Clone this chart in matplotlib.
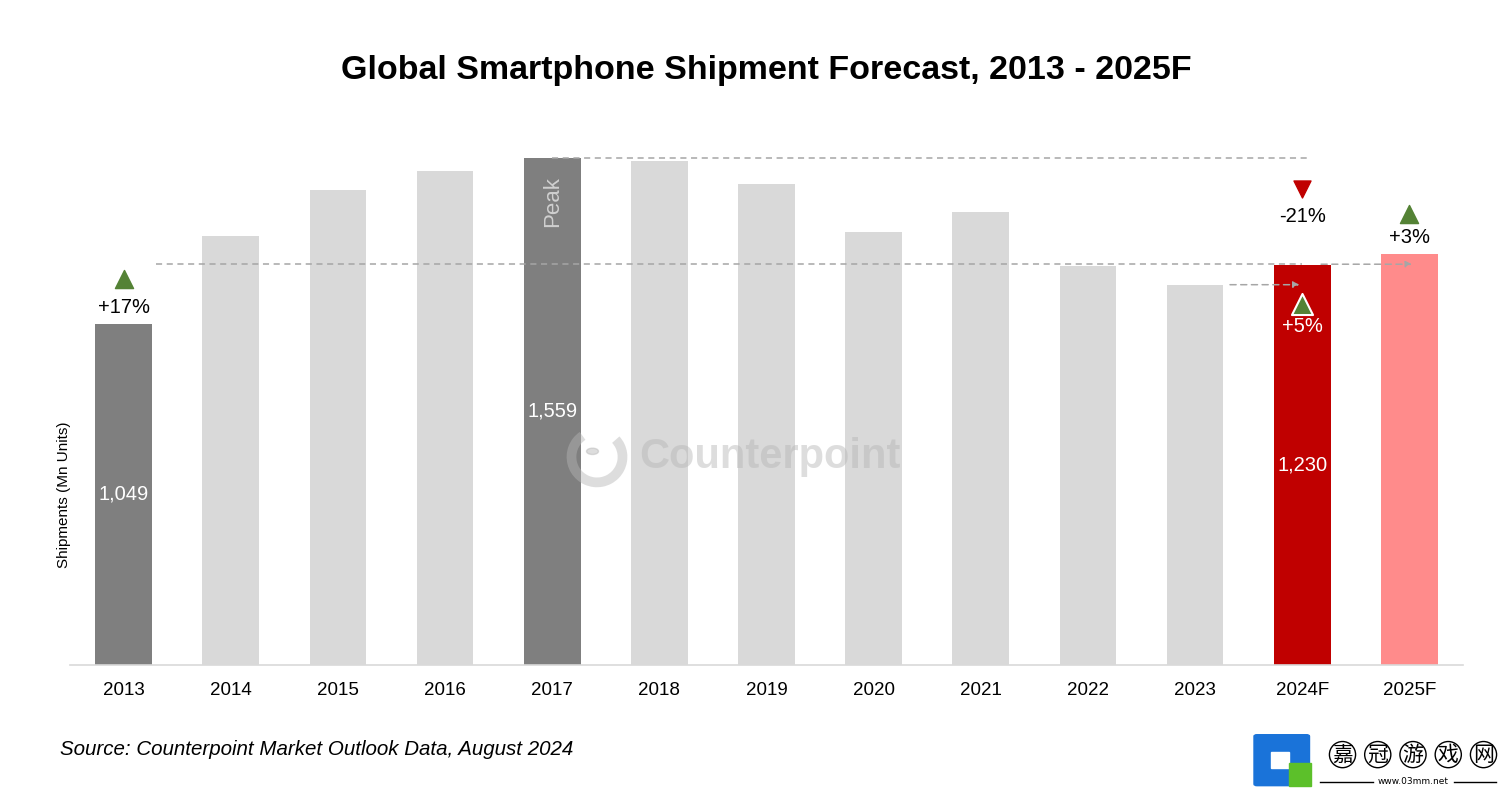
import numpy as np
import matplotlib.pyplot as plt
from matplotlib.patches import Rectangle, Circle, Arc, FancyBboxPatch

plt.rcParams['font.family'] = ['Liberation Sans', 'DejaVu Sans']

years = ["2013", "2014", "2015", "2016", "2017", "2018", "2019",
         "2020", "2021", "2022", "2023", "2024F", "2025F"]
shipments = [1049, 1320, 1461, 1517, 1559, 1548, 1480,
             1332, 1391, 1228, 1169, 1230, 1262]
colors = ["#7f7f7f", "#d9d9d9", "#d9d9d9", "#d9d9d9", "#7f7f7f", "#d9d9d9", "#d9d9d9",
          "#d9d9d9", "#d9d9d9", "#d9d9d9", "#d9d9d9", "#c00000", "#ff8b8b"]

fig = plt.figure(figsize=(15, 7.96), dpi=100)
ax = fig.add_axes([0.0467, 0.1646, 0.9286, 0.66])
x = np.arange(len(years))
ax.bar(x, shipments, width=0.53, color=colors, zorder=2)
ax.set_xlim(-0.5, 12.5)
ax.set_ylim(0, 1615)
ax.set_xticks(x)
ax.set_xticklabels(years, fontsize=13.5)
ax.tick_params(axis='x', length=0, pad=12)
ax.set_yticks([])
for s in ["top", "right", "left"]:
    ax.spines[s].set_visible(False)
ax.spines["bottom"].set_color("#d9d9d9")
ax.spines["bottom"].set_linewidth(1.2)
fig.text(0.0425, 0.378, "Shipments (Mn Units)", fontsize=11, rotation=90, ha="center", va="center")

# value labels inside bars
ax.text(0, 525, "1,049", color="white", ha="center", va="center", fontsize=14.5, zorder=4)
ax.text(4, 780, "1,559", color="white", ha="center", va="center", fontsize=14.5, zorder=4)
ax.text(11, 615, "1,230", color="white", ha="center", va="center", fontsize=14.5, zorder=4)
ax.text(4, 1425, "Peak", color="#cfcfcf", rotation=90, ha="center", va="center", fontsize=16, zorder=4)

# dashed reference lines
dash = dict(color="#a6a6a6", lw=1.1, ls=(0, (4, 3)), zorder=3)
ax.plot([4.0, 11.05], [1559, 1559], **dash)
ax.plot([0.3, 11.0], [1232, 1232], **dash)
ax.annotate("", xy=(12.05, 1232), xytext=(11.15, 1232),
            arrowprops=dict(arrowstyle="-|>", color="#a6a6a6", lw=1.1, ls=(0, (4, 3)), mutation_scale=9), zorder=3)
ax.annotate("", xy=(11.0, 1169), xytext=(10.3, 1169),
            arrowprops=dict(arrowstyle="-|>", color="#a6a6a6", lw=1.1, ls=(0, (4, 3)), mutation_scale=9), zorder=3)

# change markers
green = "#548235"
red = "#c00000"
ax.scatter([0], [1185], marker="^", s=170, color=green, zorder=5)
ax.text(0, 1100, "+17%", ha="center", va="center", fontsize=14.5)
ax.scatter([11], [1463], marker="v", s=150, color=red, zorder=5)
ax.text(11, 1379, "-21%", ha="center", va="center", fontsize=14.5)
ax.scatter([11], [1110], marker="^", s=230, color=green, edgecolor="white", linewidth=1.5, zorder=5)
ax.text(11, 1040, "+5%", color="white", ha="center", va="center", fontsize=14.5, zorder=5)
ax.scatter([12], [1385], marker="^", s=170, color=green, zorder=5)
ax.text(12, 1313, "+3%", ha="center", va="center", fontsize=14.5)

# watermark
fig.text(0.513, 0.426, "Counterpoint", fontsize=30, fontweight="bold", color="#b5b5b5",
         alpha=0.45, ha="center", va="center", zorder=10)
fig.patches.append(Arc((0.398, 0.426), 0.034, 0.064, theta1=110, theta2=420, lw=7,
                       color="#b5b5b5", alpha=0.45, transform=fig.transFigure, figure=fig))
fig.patches.append(Circle((0.395, 0.433), 0.004, color="#b5b5b5", alpha=0.45,
                          transform=fig.transFigure, figure=fig))

fig.suptitle("Global Smartphone Shipment Forecast, 2013 - 2025F", fontsize=24.5,
             fontweight="bold", y=0.912, va="center", x=0.511)
fig.text(0.04, 0.058, "Source: Counterpoint Market Outlook Data, August 2024", fontsize=14.8,
         style="italic", va="center")

# site logo, bottom right
fig.patches.append(FancyBboxPatch((0.838, 0.015), 0.033, 0.06, boxstyle="round,pad=0.002",
                                  color="#1a73d9", transform=fig.transFigure, figure=fig))
fig.patches.append(Rectangle((0.847, 0.035), 0.012, 0.02, color="white",
                             transform=fig.transFigure, figure=fig))
fig.patches.append(Rectangle((0.859, 0.012), 0.015, 0.03, color="#5cc02a",
                             transform=fig.transFigure, figure=fig))
for i, ch in enumerate("嘉冠游戏网"):
    fig.text(0.895 + i * 0.0235, 0.052, ch, family=["Noto Sans CJK SC", "DejaVu Sans"],
             fontsize=15, ha="center", va="center",
             bbox=dict(boxstyle="circle,pad=0.1", fc="white", ec="black", lw=1))
fig.text(0.942, 0.018, "www.03mm.net", fontsize=6.5, ha="center", va="center", family="DejaVu Sans")
fig.add_artist(plt.Line2D([0.88, 0.915], [0.018, 0.018], color="black", lw=1, transform=fig.transFigure))
fig.add_artist(plt.Line2D([0.969, 0.997], [0.018, 0.018], color="black", lw=1, transform=fig.transFigure))

fig.savefig("out.png", dpi=100)
